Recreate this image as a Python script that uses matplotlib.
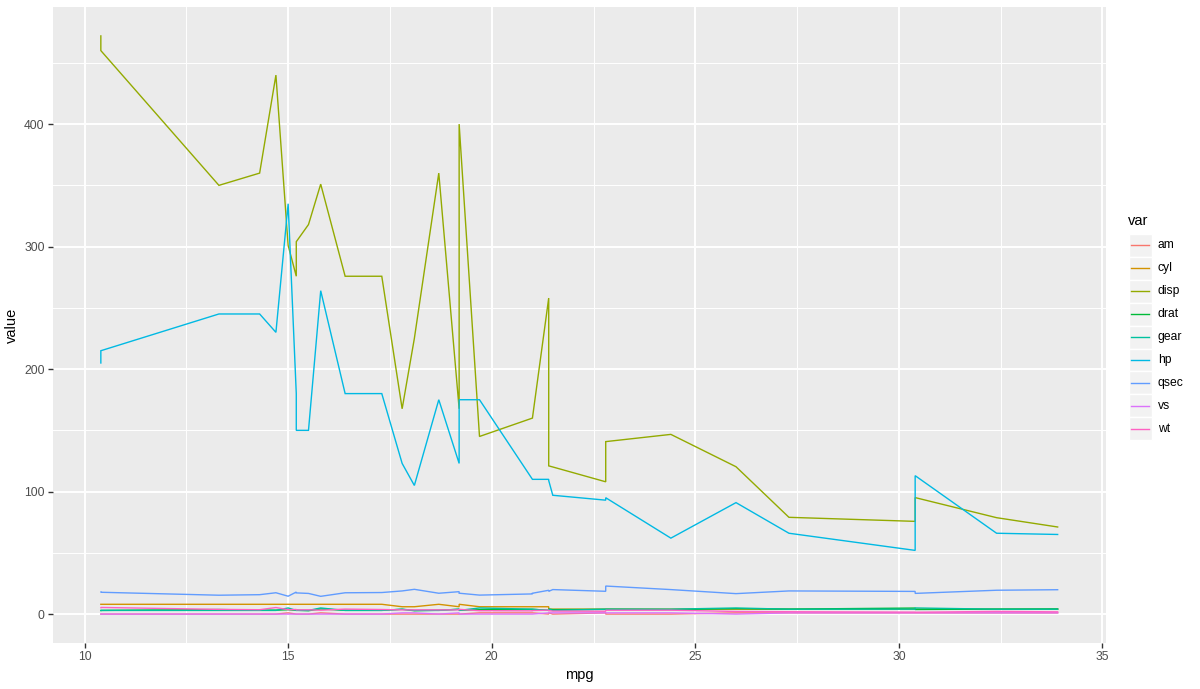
import matplotlib
matplotlib.use("Agg")
import matplotlib.pyplot as plt
from matplotlib.patches import Rectangle
import numpy as np

# mtcars data (rows in original order)
mpg  = [21.0, 21.0, 22.8, 21.4, 18.7, 18.1, 14.3, 24.4, 22.8, 19.2, 17.8, 16.4, 17.3, 15.2, 10.4, 10.4,
        14.7, 32.4, 30.4, 33.9, 21.5, 15.5, 15.2, 13.3, 19.2, 27.3, 26.0, 30.4, 15.8, 19.7, 15.0, 21.4]
am   = [1, 1, 1, 0, 0, 0, 0, 0, 0, 0, 0, 0, 0, 0, 0, 0, 0, 1, 1, 1, 0, 0, 0, 0, 0, 1, 1, 1, 1, 1, 1, 1]
cyl  = [6, 6, 4, 6, 8, 6, 8, 4, 4, 6, 6, 8, 8, 8, 8, 8, 8, 4, 4, 4, 4, 8, 8, 8, 8, 4, 4, 4, 8, 6, 8, 4]
disp = [160.0, 160.0, 108.0, 258.0, 360.0, 225.0, 360.0, 146.7, 140.8, 167.6, 167.6, 275.8, 275.8, 275.8,
        472.0, 460.0, 440.0, 78.7, 75.7, 71.1, 120.1, 318.0, 304.0, 350.0, 400.0, 79.0, 120.3, 95.1,
        351.0, 145.0, 301.0, 121.0]
drat = [3.90, 3.90, 3.85, 3.08, 3.15, 2.76, 3.21, 3.69, 3.92, 3.92, 3.92, 3.07, 3.07, 3.07, 2.93, 3.00,
        3.23, 4.08, 4.93, 4.22, 3.70, 2.76, 3.15, 3.73, 3.08, 4.08, 4.43, 3.77, 4.22, 3.62, 3.54, 4.11]
gear = [4, 4, 4, 3, 3, 3, 3, 4, 4, 4, 4, 3, 3, 3, 3, 3, 3, 4, 4, 4, 3, 3, 3, 3, 3, 4, 5, 5, 5, 5, 5, 4]
hp   = [110, 110, 93, 110, 175, 105, 245, 62, 95, 123, 123, 180, 180, 180, 205, 215, 230, 66, 52, 65,
        97, 150, 150, 245, 175, 66, 91, 113, 264, 175, 335, 109]
qsec = [16.46, 17.02, 18.61, 19.44, 17.02, 20.22, 15.84, 20.00, 22.90, 18.30, 18.90, 17.40, 17.60, 18.00,
        17.98, 17.82, 17.42, 19.47, 18.52, 19.90, 20.01, 16.87, 17.30, 15.41, 17.05, 18.90, 16.70, 16.90,
        14.50, 15.50, 14.60, 18.60]
vs   = [0, 0, 1, 1, 0, 1, 0, 1, 1, 1, 1, 0, 0, 0, 0, 0, 0, 1, 1, 1, 1, 0, 0, 0, 0, 1, 0, 1, 0, 0, 0, 1]
wt   = [2.620, 2.875, 2.320, 3.215, 3.440, 3.460, 3.570, 3.190, 3.150, 3.440, 3.440, 4.070, 3.730, 3.780,
        5.250, 5.424, 5.345, 2.200, 1.615, 1.835, 2.465, 3.520, 3.435, 3.840, 3.845, 1.935, 2.140, 1.513,
        3.170, 2.770, 3.570, 2.780]

var_names = ["am", "cyl", "disp", "drat", "gear", "hp", "qsec", "vs", "wt"]
series = [am, cyl, disp, drat, gear, hp, qsec, vs, wt]
colors = ["#F8766D", "#D39200", "#93AA00", "#00BA38", "#00C19F", "#00B9E3", "#619CFF", "#DB72FB", "#FF61C3"]

W, H = 1200, 689
fig = plt.figure(figsize=(W / 100, H / 100), dpi=100)
fig.patch.set_facecolor("white")
plt.rcParams["font.family"] = ["Liberation Sans", "DejaVu Sans"]

def px(l, t, r, b):
    return [l / W, 1 - b / H, (r - l) / W, (b - t) / H]

ax = fig.add_axes(px(53, 7, 1105.5, 643))
ax.set_facecolor("#EBEBEB")
for s in ax.spines.values():
    s.set_visible(False)

x = np.array(mpg)
order = np.argsort(x, kind="stable")
for name, vals, c in zip(var_names, series, colors):
    v = np.array(vals, dtype=float)
    ax.plot(x[order], v[order], color=c, lw=1.0, solid_joinstyle="miter", zorder=3)

ax.set_xlim(9.225, 35.075)
ax.set_ylim(-23.6, 495.6)
ax.set_xticks([10, 15, 20, 25, 30, 35])
ax.set_yticks([0, 100, 200, 300, 400])
ax.set_xticks([12.5, 17.5, 22.5, 27.5, 32.5], minor=True)
ax.set_yticks([50, 150, 250, 350, 450], minor=True)
ax.grid(which="major", color="white", lw=1.4, zorder=1)
ax.grid(which="minor", color="white", lw=0.7, zorder=1)
ax.set_axisbelow(True)
ax.tick_params(which="major", length=3.5, width=1.0, color="#333333", labelcolor="#4D4D4D",
               labelsize=8.7, pad=2.5)
ax.tick_params(which="minor", length=0)
ax.set_xlabel("mpg", fontsize=10.5, color="black", labelpad=3)
ax.set_ylabel("value", fontsize=10.5, color="black", labelpad=4)

# legend
lg = fig.add_axes([0, 0, 1, 1], facecolor="none")
lg.set_xlim(0, W)
lg.set_ylim(H, 0)
lg.axis("off")
lg.text(1128, 221, "var", fontsize=10.5, color="black", va="center", ha="left")
key_top = 234.0
key_h = 22.9
for i, (name, c) in enumerate(zip(var_names, colors)):
    y0 = key_top + i * key_h
    lg.add_patch(Rectangle((1129, y0), 22.5, key_h, facecolor="#F2F2F2", edgecolor="white", lw=1.0))
    lg.plot([1131, 1149], [y0 + key_h / 2] * 2, color=c, lw=1.0)
    lg.text(1158, y0 + key_h / 2, name, fontsize=8.7, color="black", va="center", ha="left")

fig.savefig("out.png", dpi=100)
